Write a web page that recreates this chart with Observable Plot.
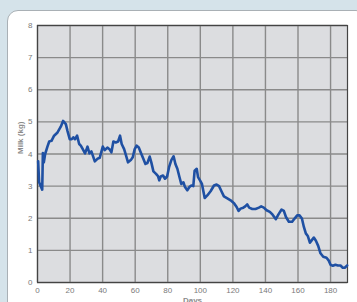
<!DOCTYPE html>
<html>
<head>
<meta charset="utf-8">
<script src="https://cdn.jsdelivr.net/npm/d3@7"></script>
<script src="https://cdn.jsdelivr.net/npm/@observablehq/plot@0.6"></script>
<style>
  html, body { margin: 0; padding: 0; }
  body { width: 357px; height: 302px; overflow: hidden; background: #d5e3ea; position: relative; font-family: "Liberation Sans", Arial, sans-serif; }
  #panel { position: absolute; left: 7px; top: 10px; width: 360px; height: 310px; background: #fff; border: 1px solid #a9b0b5; border-radius: 11px; box-sizing: border-box; }
  #chart { position: absolute; left: 0; top: 0; }
</style>
</head>
<body>
<div id="panel"></div>
<div id="chart"></div>
<script>
const days = [0.4, 1, 2, 2.9, 3.3, 3.9, 4.7, 6.1, 7.2, 8.6, 10.2, 12.3, 14.3, 15.7, 17.4, 18.4, 19.8, 21, 22, 23, 24.3, 25.6, 26.6, 27.8, 29.2, 30.7, 31.9, 33.1, 35.2, 36.8, 38.2, 40.1, 41.3, 42.9, 44.2, 45.4, 46.6, 48.1, 49.5, 50.7, 51.7, 53.2, 54.4, 55.6, 57.3, 58.5, 59.7, 60.9, 62.2, 63.8, 65, 66.3, 67.5, 68.9, 69.9, 71.2, 72.8, 74, 74.8, 75.7, 77.1, 78.3, 79.6, 80.8, 82.2, 83.6, 84.7, 85.9, 87.1, 88.3, 89.6, 90.6, 92, 93.3, 94.5, 95.7, 96.5, 97.8, 98.6, 99.8, 101, 102.7, 104.3, 106.3, 108.4, 110, 111.5, 112.9, 114.5, 116.6, 118.6, 120.7, 122.3, 123.5, 124.7, 126.4, 127.6, 128.8, 130, 131.9, 133.9, 136, 137.4, 139, 140.7, 142.7, 144.4, 146.4, 148, 149.9, 151.3, 152.6, 154.4, 156.4, 157.9, 159.5, 160.9, 162.4, 163.6, 164.8, 166, 167.3, 168.5, 169.7, 171, 172.4, 173.8, 175.5, 177.5, 178.9, 180, 181.4, 183, 184.5, 186.1, 187.5, 188.7, 190.2];
const milk = [3.77, 3.12, 3.0, 2.89, 4.03, 3.74, 4.0, 4.23, 4.39, 4.41, 4.57, 4.67, 4.85, 5.03, 4.93, 4.72, 4.46, 4.46, 4.52, 4.46, 4.57, 4.31, 4.26, 4.15, 4.02, 4.23, 4.02, 4.08, 3.77, 3.85, 3.88, 4.23, 4.12, 4.2, 4.15, 4.05, 4.39, 4.36, 4.39, 4.57, 4.31, 4.15, 3.95, 3.74, 3.81, 3.9, 4.15, 4.26, 4.2, 4.0, 3.85, 3.69, 3.72, 3.92, 3.74, 3.46, 3.38, 3.31, 3.18, 3.3, 3.33, 3.23, 3.3, 3.59, 3.81, 3.93, 3.69, 3.54, 3.3, 3.07, 3.12, 2.97, 2.87, 2.97, 3.02, 3.0, 3.48, 3.54, 3.28, 3.18, 3.07, 2.63, 2.71, 2.84, 3.02, 3.05, 3.0, 2.85, 2.68, 2.62, 2.56, 2.47, 2.35, 2.23, 2.3, 2.33, 2.37, 2.43, 2.33, 2.29, 2.29, 2.33, 2.37, 2.33, 2.25, 2.2, 2.11, 1.97, 2.12, 2.27, 2.23, 2.04, 1.89, 1.89, 1.99, 2.09, 2.09, 1.99, 1.73, 1.53, 1.45, 1.24, 1.32, 1.40, 1.30, 1.14, 0.91, 0.80, 0.77, 0.68, 0.55, 0.52, 0.55, 0.53, 0.53, 0.46, 0.46, 0.53];
const xTicks = [0, 20, 40, 60, 80, 100, 120, 140, 160, 180];
const yTicks = [0, 1, 2, 3, 4, 5, 6, 7, 8];
const xLabel = "Days";
const yLabel = "Milk (kg)";

const data = days.map((d, i) => ({day: d, milk: milk[i]}));

const chart = Plot.plot({
  width: 357,
  height: 302,
  marginLeft: 37,
  marginTop: 25,
  marginRight: 10,
  marginBottom: 20,
  style: {background: "transparent", fontFamily: "Liberation Sans, Arial, sans-serif", fontSize: "8px", color: "#7a7a7a", overflow: "hidden"},
  x: {domain: [0, 190.4], ticks: xTicks, label: null},
  y: {domain: [0, 8], ticks: yTicks, label: null},
  marks: [
    Plot.frame({fill: "#dcdde0", stroke: "none"}),
    Plot.gridX(xTicks, {stroke: "#8a8a8a", strokeOpacity: 1, strokeWidth: 1.4}),
    Plot.gridY(yTicks, {stroke: "#8a8a8a", strokeOpacity: 1, strokeWidth: 1.4}),
    Plot.frame({stroke: "#444", strokeWidth: 1.2}),
    Plot.axisX(xTicks, {tickSize: 0, tickPadding: 5, fill: "#7a7a7a", label: null}),
    Plot.axisY(yTicks, {tickSize: 0, tickPadding: 5, fill: "#7a7a7a", label: null}),
    Plot.line(data, {x: "day", y: "milk", stroke: "#1f50a3", strokeWidth: 2.6, curve: "linear"}),
    Plot.text([xLabel], {frameAnchor: "bottom", lineAnchor: "top", dy: 15, fill: "#8a8a8a", fontWeight: "bold", fontSize: 8}),
    Plot.text([yLabel], {frameAnchor: "left", dx: -17, rotate: -90, fill: "#8a8a8a", fontWeight: "bold", fontSize: 8})
  ]
});
document.getElementById("chart").appendChild(chart);
</script>
</body>
</html>
